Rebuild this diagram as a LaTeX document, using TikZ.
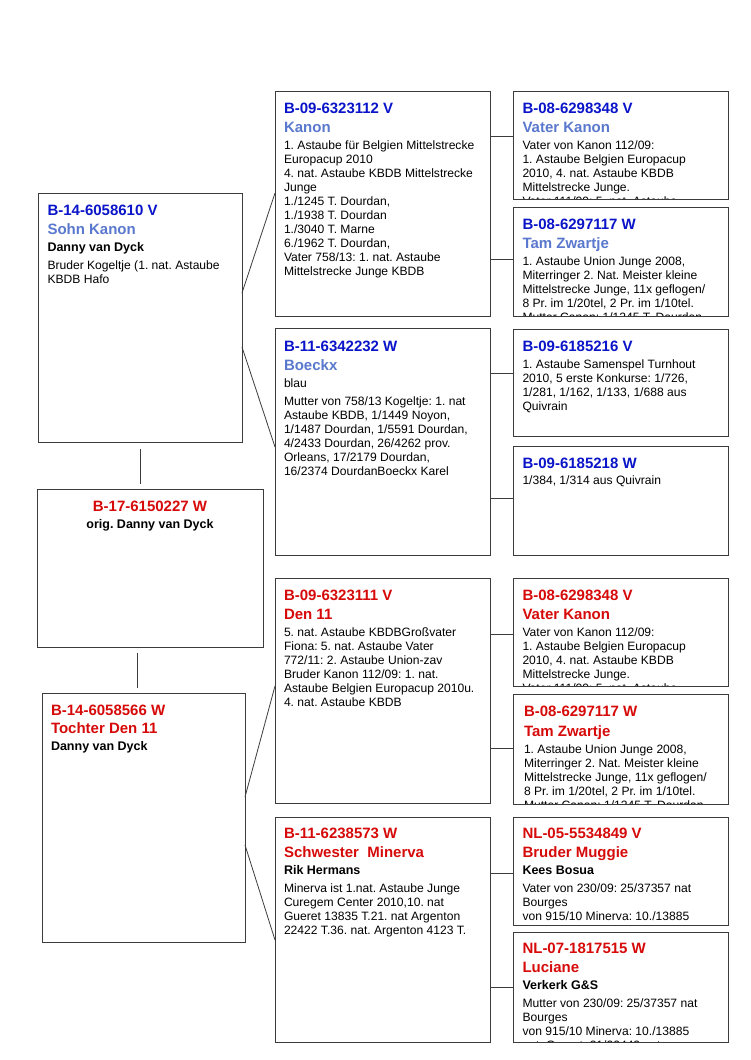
\documentclass[tikz,border=0pt]{standalone}
\usepackage{fontspec}
\setmainfont{Liberation Sans}
\frenchspacing
\definecolor{hblue}{RGB}{10,20,200}
\definecolor{nblue}{RGB}{90,120,205}
\definecolor{hred}{RGB}{215,10,10}
\definecolor{edge}{RGB}{60,60,60}
\newcommand\hdf{\fontsize{15}{18}\selectfont\bfseries}
\newcommand\ownf{\fontsize{12.5}{15}\selectfont\bfseries}
\newcommand\bodyf{\fontsize{12.1}{14}\selectfont}
\newcommand\Hd[2]{\hbox{\color{#1}\hdf #2}}
\newcommand\Nm[2]{\baselineskip=19.5pt\hbox{\color{#1}\hdf #2}}
\newcommand\Ow[1]{\baselineskip=16.5pt\hbox{\ownf #1}}
\newcommand\Bf[1]{\baselineskip=17pt\hbox{\bodyf #1}}
\newcommand\Ba[1]{\baselineskip=18pt\hbox{\bodyf #1}}
\newcommand\Bl[1]{\baselineskip=14pt\hbox{\bodyf #1}}
\newcommand\card[1]{\vtop{\lineskiplimit=-100pt\relax #1}}
\begin{document}
\begin{tikzpicture}[x=1pt,y=-1pt,
  box/.style={draw=edge, line width=1pt, inner sep=0pt, outer sep=0pt, anchor=north west, fill=white},
  txt/.style={anchor=base west, inner sep=0pt, outer sep=0pt},
  conn/.style={draw=edge, line width=0.8pt}]
\useasboundingbox (0,0) rectangle (750,1060);
\fill[white] (0,0) rectangle (750,1060);

% ---------- boxes ----------
\node[box, minimum width=204pt, minimum height=249pt] (sohn) at (38,193) {};
\node[box, minimum width=226pt, minimum height=158pt] (mid) at (37,489) {};
\node[box, minimum width=203pt, minimum height=249pt] (tochter) at (42,693) {};

\node[box, minimum width=215pt, minimum height=225pt] (kanon) at (275,91) {};
\node[box, minimum width=215pt, minimum height=227pt] (boeckx) at (275,328) {};
\node[box, minimum width=215pt, minimum height=225pt] (den) at (275,578) {};
\node[box, minimum width=215pt, minimum height=225pt] (minerva) at (275,817) {};

\node[box, minimum width=215pt, minimum height=108pt] (vka) at (513,91) {};
\node[box, minimum width=215pt, minimum height=109pt] (tza) at (513,207) {};
\node[box, minimum width=215pt, minimum height=107pt] (bsa) at (513,329) {};
\node[box, minimum width=215pt, minimum height=109pt] (bsb) at (513,446) {};
\node[box, minimum width=215pt, minimum height=108pt] (vkb) at (513,578) {};
\node[box, minimum width=215pt, minimum height=110pt] (tzb) at (513,694) {};
\node[box, minimum width=215pt, minimum height=108pt] (bm) at (513,817) {};
\node[box, minimum width=215pt, minimum height=110pt] (luc) at (513,932) {};

% ---------- texts ----------
\node[txt] (sohn-t) at ([xshift=9.5pt,yshift=-22pt]sohn.north west) {\card{%
  \Hd{hblue}{B-14-6058610 V}\Nm{nblue}{Sohn Kanon}\Ow{Danny van Dyck}%
  \Ba{Bruder Kogeltje (1. nat. Astaube}\Bl{KBDB Hafo}}};

\node[anchor=base, inner sep=0pt] (mid-t) at ([yshift=-22.5pt]mid.north) {\vtop{\lineskiplimit=-100pt\hsize=220pt
  \hbox to\hsize{\hfil\color{hred}\hdf B-17-6150227 W\hfil}%
  \baselineskip=16.5pt\hbox to\hsize{\hfil\ownf orig. Danny van Dyck\hfil}}};

\node[txt] (tochter-t) at ([xshift=9pt,yshift=-22pt]tochter.north west) {\card{%
  \Hd{hred}{B-14-6058566 W}\baselineskip=18.5pt\hbox{\color{hred}\hdf Tochter Den 11}\Ow{Danny van Dyck}}};

\node[txt] (kanon-t) at ([xshift=9pt,yshift=-22pt]kanon.north west) {\card{%
  \Hd{hblue}{B-09-6323112 V}\Nm{nblue}{Kanon}%
  \Bf{1. Astaube für Belgien Mittelstrecke}\Bl{Europacup 2010}%
  \Bl{4. nat. Astaube KBDB Mittelstrecke}\Bl{Junge}%
  \Bl{1./1245 T. Dourdan,}\Bl{1./1938 T. Dourdan}\Bl{1./3040 T. Marne}%
  \Bl{6./1962 T. Dourdan,}\Bl{Vater 758/13: 1. nat. Astaube}%
  \Bl{Mittelstrecke Junge KBDB}}};

\node[txt] (boeckx-t) at ([xshift=9pt,yshift=-23pt]boeckx.north west) {\card{%
  \Hd{hblue}{B-11-6342232 W}\Nm{nblue}{Boeckx}\Bf{blau}%
  \Ba{Mutter von 758/13 Kogeltje: 1. nat}\Bl{Astaube KBDB, 1/1449 Noyon,}%
  \Bl{1/1487 Dourdan, 1/5591 Dourdan,}\Bl{4/2433 Dourdan, 26/4262 prov.}%
  \Bl{Orleans, 17/2179 Dourdan,}\Bl{16/2374 DourdanBoeckx Karel}}};

\node[txt] (den-t) at ([xshift=9pt,yshift=-22pt]den.north west) {\card{%
  \Hd{hred}{B-09-6323111 V}\Nm{hred}{Den 11}%
  \Bf{5. nat. Astaube KBDBGroßvater}\Bl{Fiona: 5. nat. Astaube Vater}%
  \Bl{772/11: 2. Astaube Union-zav}\Bl{Bruder Kanon 112/09: 1. nat.}%
  \Bl{Astaube Belgien Europacup 2010u.}\Bl{4. nat. Astaube KBDB}}};

\node[txt] (minerva-t) at ([xshift=9pt,yshift=-21pt]minerva.north west) {\card{%
  \Hd{hred}{B-11-6238573 W}\Nm{hred}{Schwester\ \ Minerva}\Ow{Rik Hermans}%
  \Ba{Minerva ist 1.nat. Astaube Junge}\Bl{Curegem Center 2010,10. nat}%
  \Bl{Gueret 13835 T.21. nat Argenton}\Bl{22422 T.36. nat. Argenton 4123 T.}}};

\begin{scope}
\clip (vka.north west) rectangle (vka.south east);
\node[txt] (vka-t) at ([xshift=9.5pt,yshift=-22pt]vka.north west) {\card{%
  \Hd{hblue}{B-08-6298348 V}\Nm{nblue}{Vater Kanon}%
  \Bf{Vater von Kanon 112/09:}\Bl{1. Astaube Belgien Europacup}%
  \Bl{2010, 4. nat. Astaube KBDB}\Bl{Mittelstrecke Junge.}%
  \Bl{Vater 111/09: 5. nat. Astaube}}};
\end{scope}
\begin{scope}
\clip (tza.north west) rectangle (tza.south east);
\node[txt] (tza-t) at ([xshift=9.5pt,yshift=-22pt]tza.north west) {\card{%
  \Hd{hblue}{B-08-6297117 W}\Nm{nblue}{Tam Zwartje}%
  \Bf{1. Astaube Union Junge 2008,}\Bl{Miterringer 2. Nat. Meister kleine}%
  \Bl{Mittelstrecke Junge, 11x geflogen/}\Bl{8 Pr. im 1/20tel, 2 Pr. im 1/10tel.}%
  \Bl{Mutter Canon: 1/1245 T. Dourdan}}};
\end{scope}
\node[txt] (bsa-t) at ([xshift=9.5pt,yshift=-22pt]bsa.north west) {\card{%
  \Hd{hblue}{B-09-6185216 V}%
  \Bf{1. Astaube Samenspel Turnhout}\Bl{2010, 5 erste Konkurse: 1/726,}%
  \Bl{1/281, 1/162, 1/133, 1/688 aus}\Bl{Quivrain}}};
\node[txt] (bsb-t) at ([xshift=9.5pt,yshift=-22pt]bsb.north west) {\card{%
  \Hd{hblue}{B-09-6185218 W}\baselineskip=16.5pt\hbox{\bodyf 1/384, 1/314 aus Quivrain}}};
\begin{scope}
\clip (vkb.north west) rectangle (vkb.south east);
\node[txt] (vkb-t) at ([xshift=9.5pt,yshift=-22pt]vkb.north west) {\card{%
  \Hd{hred}{B-08-6298348 V}\Nm{hred}{Vater Kanon}%
  \Bf{Vater von Kanon 112/09:}\Bl{1. Astaube Belgien Europacup}%
  \Bl{2010, 4. nat. Astaube KBDB}\Bl{Mittelstrecke Junge.}%
  \Bl{Vater 111/09: 5. nat. Astaube}}};
\end{scope}
\begin{scope}
\clip (tzb.north west) rectangle (tzb.south east);
\node[txt] (tzb-t) at ([xshift=11pt,yshift=-22.5pt]tzb.north west) {\card{%
  \Hd{hred}{B-08-6297117 W}\Nm{hred}{Tam Zwartje}%
  \Bf{1. Astaube Union Junge 2008,}\Bl{Miterringer 2. Nat. Meister kleine}%
  \Bl{Mittelstrecke Junge, 11x geflogen/}\Bl{8 Pr. im 1/20tel, 2 Pr. im 1/10tel.}%
  \Bl{Mutter Canon: 1/1245 T. Dourdan}}};
\end{scope}
\begin{scope}
\clip (bm.north west) rectangle (bm.south east);
\node[txt] (bm-t) at ([xshift=9.5pt,yshift=-21pt]bm.north west) {\card{%
  \Hd{hred}{NL-05-5534849 V}\Nm{hred}{Bruder Muggie}\Ow{Kees Bosua}%
  \Ba{Vater von 230/09: 25/37357 nat}\Bl{Bourges}%
  \Bl{von 915/10 Minerva: 10./13885}}};
\end{scope}
\begin{scope}
\clip (luc.north west) rectangle (luc.south east);
\node[txt] (luc-t) at ([xshift=9.5pt,yshift=-21pt]luc.north west) {\card{%
  \Hd{hred}{NL-07-1817515 W}\Nm{hred}{Luciane}\Ow{Verkerk G\&S}%
  \Ba{Mutter von 230/09: 25/37357 nat}\Bl{Bourges}%
  \Bl{von 915/10 Minerva: 10./13885}\Bl{nat. Gueret: 21/22442 nat}}};
\end{scope}
% redraw borders of clipped boxes
\foreach \b in {vka,tza,vkb,tzb,bm,luc}{\draw[draw=edge, line width=1pt] (\b.north west) rectangle (\b.south east);}

% ---------- connectors ----------
\draw[conn] ([yshift=24.5pt]sohn.east) -- ([yshift=10.5pt]kanon.west);
\draw[conn] ([yshift=-29.5pt]sohn.east) -- ([yshift=-5.5pt]boeckx.west);
\draw[conn] ([yshift=20.5pt]tochter.east) -- ([yshift=4.5pt]den.west);
\draw[conn] ([yshift=-27.5pt]tochter.east) -- ([yshift=-10.5pt]minerva.west);

\coordinate (ca) at ([yshift=9pt]vka.west);
\draw[conn] (ca -| kanon.east) -- (ca);
\coordinate (cb) at ([yshift=2.5pt]tza.west);
\draw[conn] (cb -| kanon.east) -- (cb);
\coordinate (cc) at ([yshift=9.5pt]bsa.west);
\draw[conn] (cc -| boeckx.east) -- (cc);
\coordinate (cd) at ([yshift=2.5pt]bsb.west);
\draw[conn] (cd -| boeckx.east) -- (cd);
\coordinate (ce) at ([yshift=-2pt]vkb.west);
\draw[conn] (ce -| den.east) -- (ce);
\coordinate (cf) at ([yshift=1pt]tzb.west);
\draw[conn] (cf -| den.east) -- (cf);
\coordinate (cg) at ([yshift=-2pt]bm.west);
\draw[conn] (cg -| minerva.east) -- (cg);
\coordinate (ch) at (luc.west);
\draw[conn] (ch -| minerva.east) -- (ch);

\coordinate (v1a) at ([yshift=-7pt]sohn.south);
\coordinate (v1b) at (sohn.south |- mid.north);
\draw[conn] (v1a) -- ([yshift=5pt]v1b);
\coordinate (v2a) at ([xshift=-6.5pt,yshift=5pt]tochter.north);
\coordinate (v2b) at (v2a |- mid.south);
\draw[conn] (v2a) -- ([yshift=-6pt]v2b);
\end{tikzpicture}
\end{document}
